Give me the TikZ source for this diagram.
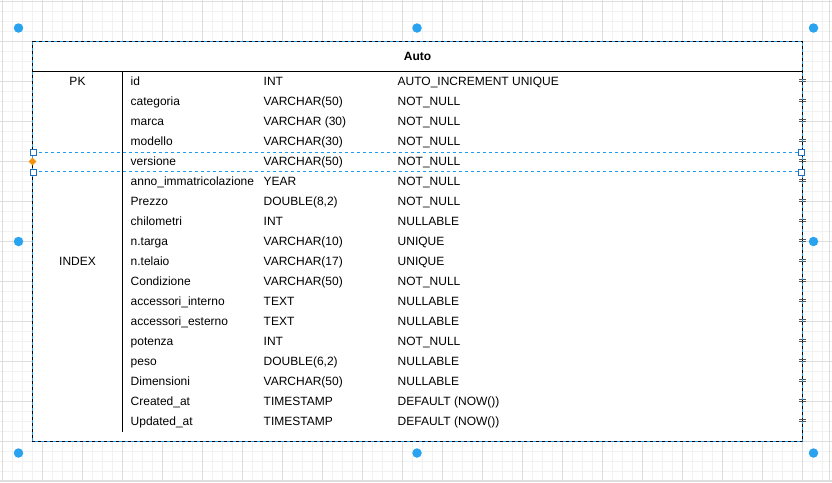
\documentclass[tikz,border=0pt]{standalone}
\usepackage{fontspec}
\setmainfont{Liberation Sans}
\usetikzlibrary{shapes.geometric}
\definecolor{gridminor}{HTML}{F1F1F1}
\definecolor{gridmajor}{HTML}{DEDEDE}
\definecolor{selblue}{HTML}{1E9BF0}
\definecolor{dotblue}{HTML}{29A3F0}
\definecolor{handleblue}{HTML}{1F6FC0}
\definecolor{handleorange}{HTML}{F5900A}
\definecolor{tickgray}{HTML}{555555}
\begin{document}
\begin{tikzpicture}[x=1pt,y=-1pt,
  font=\fontsize{12}{14}\selectfont,
  minorline/.style={draw=gridminor,line width=0.8pt},
  majorline/.style={draw=gridmajor,line width=1pt},
  cell/.style={anchor=base west,inner sep=0pt},
  keycell/.style={anchor=base,inner sep=0pt},
  seldash/.style={draw=selblue,line width=0.9pt,dash pattern=on 3pt off 3pt},
  dothandle/.style={circle,fill=dotblue,inner sep=0pt,minimum size=9.5pt},
  sqhandle/.style={rectangle,draw=handleblue,fill=white,line width=0.9pt,inner sep=0pt,minimum size=6pt},
  dmhandle/.style={diamond,fill=handleorange,inner sep=0pt,minimum size=8pt},
  tick/.style={draw=tickgray,line width=0.7pt}]
\useasboundingbox (0,0) rectangle (832,482);
\fill[white] (0,0) rectangle (832,482);
% grid
\foreach \x in {2.5,12.5,...,832} \draw[minorline] (\x,0) -- (\x,482);
\foreach \y in {1.5,11.5,...,482} \draw[minorline] (0,\y) -- (832,\y);
\foreach \x in {2.5,42.5,...,832} \draw[majorline] (\x,0) -- (\x,482);
\foreach \y in {1.5,41.5,...,482} \draw[majorline] (0,\y) -- (832,\y);
\draw[majorline] (829.5,0) -- (829.5,482);
\draw[majorline] (0,480.5) -- (832,480.5);
% table
\fill[white] (32.5,41.5) rectangle (802.5,441.5);
\draw[black,line width=1pt] (32.5,41.5) rectangle (802.5,441.5);
\draw[black,line width=1pt] (32.5,71.5) -- (802.5,71.5);
\draw[black,line width=1pt] (122.5,71.5) -- (122.5,431.5);
\node[font=\fontsize{12}{14}\selectfont\bfseries] (title) at (417.5,56.5) {Auto};
% rows
\foreach \n/\t/\c [count=\i from 0] in {
  id/INT/AUTO\_INCREMENT UNIQUE,
  categoria/VARCHAR(50)/NOT\_NULL,
  marca/VARCHAR (30)/NOT\_NULL,
  modello/VARCHAR(30)/NOT\_NULL,
  versione/VARCHAR(50)/NOT\_NULL,
  anno\_immatricolazione/YEAR/NOT\_NULL,
  Prezzo/{DOUBLE(8,2)}/NOT\_NULL,
  chilometri/INT/NULLABLE,
  n.targa/VARCHAR(10)/UNIQUE,
  n.telaio/VARCHAR(17)/UNIQUE,
  Condizione/VARCHAR(50)/NOT\_NULL,
  accessori\_interno/TEXT/NULLABLE,
  accessori\_esterno/TEXT/NULLABLE,
  potenza/INT/NOT\_NULL,
  peso/{DOUBLE(6,2)}/NULLABLE,
  Dimensioni/VARCHAR(50)/NULLABLE,
  Created\_at/TIMESTAMP/DEFAULT (NOW()),
  Updated\_at/TIMESTAMP/DEFAULT (NOW())}{
  \pgfmathsetmacro{\yb}{85.3+20*\i}
  \pgfmathsetmacro{\yt}{80.5+20*\i}
  \node[cell] (name\i) at (130.5,\yb) {\n};
  \node[cell] (type\i) at (263.5,\yb) {\t};
  \node[cell] (cons\i) at (397.5,\yb) {\c};
  \draw[tick] (799,\yt-1) -- (806,\yt-1);
  \draw[tick] (799,\yt+1) -- (806,\yt+1);
}
\node[keycell] (pk) at (77.5,85.3) {PK};
\node[keycell] (idx) at (77.5,265.3) {INDEX};
% selection outline
\draw[seldash] (32.5,41.5) rectangle (802.5,441.5);
% row selection
\draw[seldash] (32.5,152.5) -- (802.5,152.5);
\draw[seldash] (32.5,171.5) -- (802.5,171.5);
\node[sqhandle] (sq1) at (33,152.5) {};
\node[sqhandle] (sq2) at (33,172) {};
\node[sqhandle] (sq3) at (801,152.5) {};
\node[sqhandle] (sq4) at (801,172) {};
\node[dmhandle] (dm) at (32.5,161.5) {};
% corner handles
\node[dothandle] (h1) at (18.5,28) {};
\node[dothandle] (h2) at (417,28) {};
\node[dothandle] (h3) at (813.5,28) {};
\node[dothandle] (h4) at (18.5,241.5) {};
\node[dothandle] (h5) at (813.5,241.5) {};
\node[dothandle] (h6) at (18.5,453) {};
\node[dothandle] (h7) at (417,453) {};
\node[dothandle] (h8) at (813.5,453) {};
\end{tikzpicture}
\end{document}
